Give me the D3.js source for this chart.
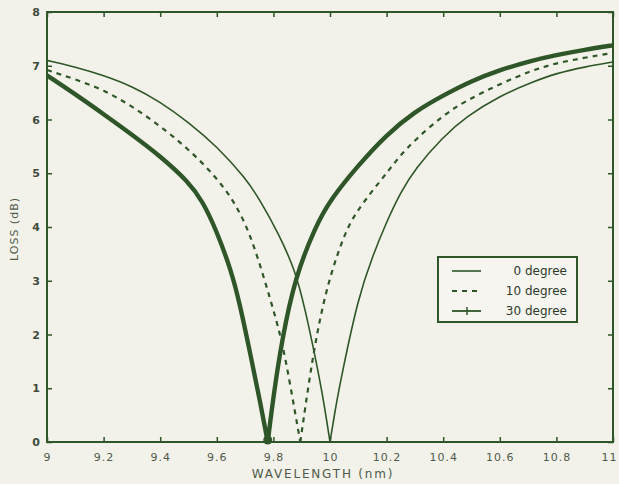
<!DOCTYPE html>
<html>
<head>
<meta charset="utf-8">
<script src="https://cdn.jsdelivr.net/npm/d3@7"></script>
<style>
  html, body { margin: 0; padding: 0; background: #f3f2ea; }
  svg { display: block; }
</style>
</head>
<body>
<svg id="chart" width="619" height="484"></svg>
<script>
// ---- Data ----
const xTicks = [9, 9.2, 9.4, 9.6, 9.8, 10, 10.2, 10.4, 10.6, 10.8, 11];
const xTickLabels = ["9", "9.2", "9.4", "9.6", "9.8", "10", "10.2", "10.4", "10.6", "10.8", "11"];
const yTicks = [0, 1, 2, 3, 4, 5, 6, 7, 8];
const yTickLabels = ["0", "1", "2", "3", "4", "5", "6", "7", "8"];
const seriesNames = ["0 degree", "10 degree", "30 degree"];

const wl0   = [9.0, 9.1, 9.2, 9.3, 9.4, 9.5, 9.6, 9.7, 9.753, 9.817, 9.877, 9.913, 9.948, 9.975, 10.0, 10.02, 10.04, 10.1, 10.15, 10.2, 10.25, 10.3, 10.4, 10.48, 10.6, 10.716, 10.8, 10.9, 11.0];
const loss0 = [7.10, 6.98, 6.82, 6.62, 6.33, 5.95, 5.5, 4.92, 4.5, 3.89, 3.2, 2.45, 1.58, 0.85, 0.0, 0.65, 1.21, 2.7, 3.45, 4.1, 4.65, 5.08, 5.68, 6.05, 6.44, 6.7, 6.86, 6.98, 7.07];

const wl10   = [9.0, 9.1, 9.2, 9.3, 9.4, 9.5, 9.6, 9.675, 9.73, 9.79, 9.83, 9.86, 9.895, 9.93, 9.96, 10.0, 10.055, 10.09, 10.15, 10.2, 10.243, 10.3, 10.4, 10.48, 10.6, 10.716, 10.8, 10.9, 11.0];
const loss10 = [6.92, 6.75, 6.55, 6.25, 5.88, 5.45, 4.92, 4.37, 3.7, 2.64, 1.9, 1.05, 0.0, 1.28, 2.2, 3.1, 3.92, 4.25, 4.68, 5.0, 5.3, 5.62, 6.08, 6.35, 6.66, 6.92, 7.05, 7.15, 7.24];

const wl30   = [9.0, 9.1, 9.2, 9.3, 9.4, 9.5, 9.55, 9.6, 9.65, 9.68, 9.72, 9.755, 9.78, 9.80, 9.83, 9.877, 9.948, 10.0, 10.1, 10.2, 10.3, 10.4, 10.5, 10.6, 10.7, 10.8, 10.9, 11.0];
const loss30 = [6.82, 6.47, 6.1, 5.72, 5.32, 4.84, 4.48, 3.92, 3.2, 2.6, 1.6, 0.7, 0.0, 0.85, 1.9, 3.07, 4.0, 4.5, 5.15, 5.72, 6.15, 6.45, 6.72, 6.92, 7.08, 7.2, 7.3, 7.38];

// ---- Layout ----
const ink = "#2e5628";
const labelInk = "#4f5a4a";
const svg = d3.select("#chart");
const L = 47, R = 613, T = 12, B = 442;

const x = d3.scaleLinear().domain([9, 11]).range([L, R]);
const y = d3.scaleLinear().domain([0, 8]).range([B, T]);

const fontFam = "'DejaVu Sans', 'Liberation Sans', sans-serif";

const xAxis = d3.axisBottom(x).tickValues(xTicks)
  .tickFormat((d, i) => xTickLabels[i]).tickSize(-5).tickPadding(11);
const gx = svg.append("g").attr("transform", `translate(0,${B})`).call(xAxis);

const yAxis = d3.axisLeft(y).tickValues(yTicks)
  .tickFormat((d, i) => yTickLabels[i]).tickSize(-5).tickPadding(7);
const gy = svg.append("g").attr("transform", `translate(${L},0)`).call(yAxis);

const gxt = svg.append("g").attr("transform", `translate(0,${T})`)
  .call(d3.axisTop(x).tickValues(xTicks).tickFormat("").tickSize(-5));
const gyr = svg.append("g").attr("transform", `translate(${R},0)`)
  .call(d3.axisRight(y).tickValues(yTicks).tickFormat("").tickSize(-5));

[gx, gy, gxt, gyr].forEach(g => {
  g.select(".domain").remove();
  g.selectAll(".tick line").attr("stroke", ink).attr("stroke-width", 1.5);
  g.selectAll(".tick text").attr("fill", labelInk)
    .attr("font-family", fontFam).attr("font-size", 11);
});
gx.selectAll(".tick text").attr("letter-spacing", 1);
gx.selectAll(".tick text").filter((d, i) => i === xTicks.length - 1).attr("dx", -4);
gy.selectAll(".tick text").attr("font-weight", "bold").attr("fill", "#3f4a3c");

// frame
svg.append("rect").attr("x", L).attr("y", T).attr("width", R - L).attr("height", B - T)
  .attr("fill", "none").attr("stroke", ink).attr("stroke-width", 2);

// axis titles
svg.append("text").attr("x", 323).attr("y", 478).attr("text-anchor", "middle")
  .attr("font-family", fontFam).attr("font-size", 12).attr("letter-spacing", 1.8)
  .attr("fill", labelInk)
  .text("WAVELENGTH (nm)");

svg.append("text").attr("transform", "translate(18,229) rotate(-90)")
  .attr("text-anchor", "middle").attr("font-family", fontFam).attr("font-size", 11)
  .attr("letter-spacing", 1).attr("fill", labelInk)
  .text("LOSS (dB)");

// curves: each notch drawn as two smooth branches meeting in a sharp V
const line = d3.line().x(d => x(d[0])).y(d => y(d[1])).curve(d3.curveBasis);
function notchPath(wl, loss) {
  const pts = wl.map((w, i) => [w, loss[i]]);
  const iMin = d3.minIndex(loss);
  return line(pts.slice(0, iMin + 1)) + line(pts.slice(iMin));
}

const plot = svg.append("g");
plot.append("path").attr("d", notchPath(wl0, loss0))
  .attr("fill", "none").attr("stroke", ink).attr("stroke-width", 1.6);
plot.append("path").attr("d", notchPath(wl10, loss10))
  .attr("fill", "none").attr("stroke", ink).attr("stroke-width", 2.2)
  .attr("stroke-dasharray", "5,5");
plot.append("path").attr("d", notchPath(wl30, loss30))
  .attr("fill", "none").attr("stroke", ink).attr("stroke-width", 4.4)
  .attr("stroke-linejoin", "round");
const i30 = d3.minIndex(loss30);
plot.append("circle").attr("cx", x(wl30[i30])).attr("cy", y(loss30[i30]) - 2).attr("r", 4.5).attr("fill", ink);

// legend
const lg = svg.append("g");
lg.append("rect").attr("x", 438).attr("y", 257).attr("width", 139).attr("height", 65)
  .attr("fill", "#f6f5ef").attr("stroke", ink).attr("stroke-width", 2);
const rowsY = [271, 291, 311];
const styles = [
  { w: 1.6, dash: null },
  { w: 2, dash: "5,5" },
  { w: 1.8, dash: null }
];
seriesNames.forEach((name, i) => {
  lg.append("line").attr("x1", 452).attr("x2", 481).attr("y1", rowsY[i]).attr("y2", rowsY[i])
    .attr("stroke", ink).attr("stroke-width", styles[i].w)
    .attr("stroke-dasharray", styles[i].dash);
  lg.append("text").attr("x", 567).attr("y", rowsY[i] + 4).attr("text-anchor", "end")
    .attr("font-family", fontFam).attr("font-size", 12).attr("fill", "#2f3a2c")
    .text(name);
});
lg.append("line").attr("x1", 467).attr("x2", 467).attr("y1", rowsY[2] - 4).attr("y2", rowsY[2] + 4)
  .attr("stroke", ink).attr("stroke-width", 1.5);
</script>
</body>
</html>
